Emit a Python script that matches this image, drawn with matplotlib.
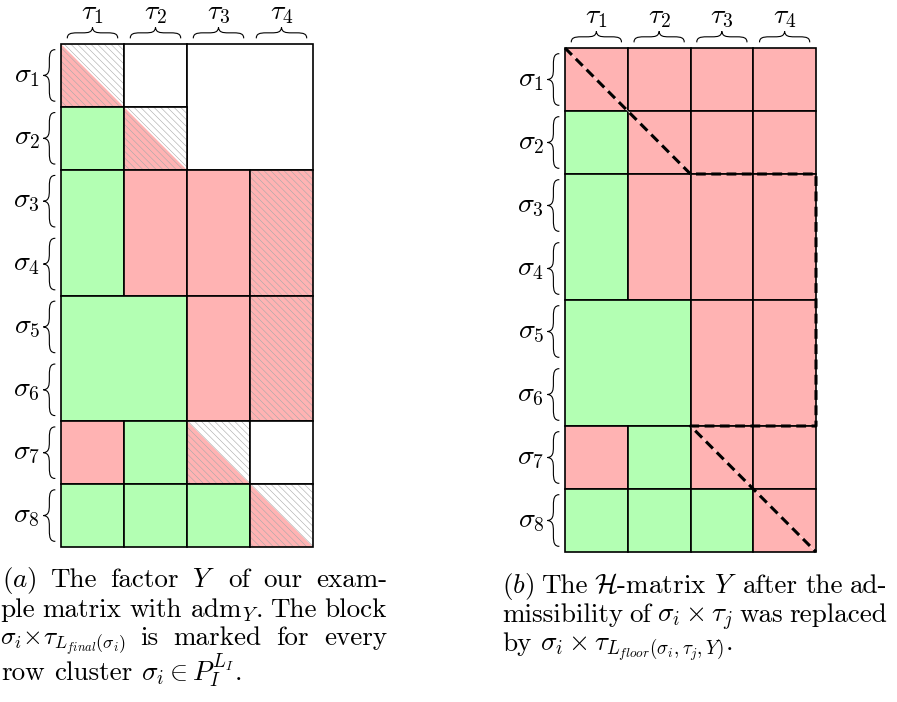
import matplotlib
matplotlib.use("Agg")
import matplotlib.pyplot as plt
from matplotlib.patches import Rectangle, Polygon, PathPatch
from matplotlib.path import Path

plt.rcParams['font.family'] = 'serif'
plt.rcParams['font.serif'] = ['cmr10']
plt.rcParams['mathtext.fontset'] = 'cm'
plt.rcParams['axes.unicode_minus'] = False
plt.rcParams['hatch.linewidth'] = 0.4

W, H = 897, 702
RED = '#ffb3b3'
GREEN = '#b3ffb3'
HATCH = '#a8a8a8'

# cluster layout: 8 row clusters, 4 column clusters
row_labels = [r'$\sigma_{%d}$' % i for i in range(1, 9)]
col_labels = [r'$\tau_{%d}$' % j for j in range(1, 5)]

# blocks of the factor Y: (first row, last row + 1, first col, last col + 1, kind)
blocks_a = [
    (0, 1, 0, 1, 'diag'), (0, 1, 1, 2, 'white'), (0, 2, 2, 4, 'white'),
    (1, 2, 0, 1, 'green'), (1, 2, 1, 2, 'diag'),
    (2, 4, 0, 1, 'green'), (2, 4, 1, 2, 'red'), (2, 4, 2, 3, 'red'), (2, 4, 3, 4, 'redhatch'),
    (4, 6, 0, 2, 'green'), (4, 6, 2, 3, 'red'), (4, 6, 3, 4, 'redhatch'),
    (6, 7, 0, 1, 'red'), (6, 7, 1, 2, 'green'), (6, 7, 2, 3, 'diag'), (6, 7, 3, 4, 'white'),
    (7, 8, 0, 1, 'green'), (7, 8, 1, 2, 'green'), (7, 8, 2, 3, 'green'), (7, 8, 3, 4, 'diag'),
]

# blocks of the H-matrix after replacing the admissibility
blocks_b = [
    (0, 1, 0, 1, 'red'), (0, 1, 1, 2, 'red'), (0, 1, 2, 3, 'red'), (0, 1, 3, 4, 'red'),
    (1, 2, 0, 1, 'green'), (1, 2, 1, 2, 'red'), (1, 2, 2, 3, 'red'), (1, 2, 3, 4, 'red'),
    (2, 4, 0, 1, 'green'), (2, 4, 1, 2, 'red'), (2, 4, 2, 3, 'red'), (2, 4, 3, 4, 'red'),
    (4, 6, 0, 2, 'green'), (4, 6, 2, 3, 'red'), (4, 6, 3, 4, 'red'),
    (6, 7, 0, 1, 'red'), (6, 7, 1, 2, 'green'), (6, 7, 2, 3, 'red'), (6, 7, 3, 4, 'red'),
    (7, 8, 0, 1, 'green'), (7, 8, 1, 2, 'green'), (7, 8, 2, 3, 'green'), (7, 8, 3, 4, 'red'),
]

# L_floor outline: diagonal, rectangle, diagonal
floor_x = [0, 2, 4, 4, 2, 4]
floor_y = [0, 2, 2, 6, 6, 8]


def brace_path(length, amp):
    r = min(amp * 0.9, length / 4)
    m = length / 2
    h = amp / 2
    verts = [(0, 0), (0, 0.4 * amp), (0.3 * r, h), (r, h),
             (m - r, h),
             (m - 0.4 * r, h), (m - 0.05 * r, 0.55 * amp), (m, amp),
             (m + 0.05 * r, 0.55 * amp), (m + 0.4 * r, h), (m + r, h),
             (length - r, h),
             (length - 0.3 * r, h), (length, 0.4 * amp), (length, 0)]
    codes = [Path.MOVETO, Path.CURVE4, Path.CURVE4, Path.CURVE4,
             Path.LINETO,
             Path.CURVE4, Path.CURVE4, Path.CURVE4,
             Path.CURVE4, Path.CURVE4, Path.CURVE4,
             Path.LINETO,
             Path.CURVE4, Path.CURVE4, Path.CURVE4]
    return verts, codes


def draw_brace(ax, start, end, base, amp, side):
    verts, codes = brace_path(end - start, amp)
    if side == 'top':
        pts = [(start + u, base - v) for u, v in verts]
    else:
        pts = [(base - v, start + u) for u, v in verts]
    ax.add_patch(PathPatch(Path(pts, codes), facecolor='none', edgecolor='black',
                           lw=0.8, clip_on=False))


def draw_matrix(ax, blocks):
    ax.set_xlim(0, 4)
    ax.set_ylim(8, 0)
    ax.set_axis_off()
    for r0, r1, c0, c1, kind in blocks:
        w, h = c1 - c0, r1 - r0
        if kind in ('red', 'green', 'white', 'redhatch'):
            fc = {'red': RED, 'green': GREEN, 'white': 'white', 'redhatch': RED}[kind]
            ax.add_patch(Rectangle((c0, r0), w, h, facecolor=fc, edgecolor='none'))
        if kind == 'diag':
            ax.add_patch(Rectangle((c0, r0), w, h, facecolor='white', edgecolor='none'))
            ax.add_patch(Polygon([(c0, r0), (c0, r1), (c1, r1)], closed=True,
                                 facecolor=RED, edgecolor='none'))
        if kind in ('diag', 'redhatch'):
            ax.add_patch(Rectangle((c0, r0), w, h, facecolor='none', edgecolor=HATCH,
                                   lw=0, hatch='\\\\\\\\\\'))
        ax.add_patch(Rectangle((c0, r0), w, h, facecolor='none', edgecolor='black',
                               lw=1.2, clip_on=False))
    for i, lab in enumerate(col_labels):
        draw_brace(ax, i + 0.1, i + 0.9, -0.09, 0.175, 'top')
        ax.text(i + 0.5, -0.4, lab, ha='center', va='baseline', fontsize=20)
    for i, lab in enumerate(row_labels):
        draw_brace(ax, i + 0.09, i + 0.91, -0.09, 0.19, 'left')
        ax.text(-0.33, i + 0.5, lab, ha='right', va='center', fontsize=20)


fig = plt.figure(figsize=(W / 100, H / 100), dpi=100)

ax_a = fig.add_axes([61 / W, 1 - 547 / H, 252 / W, 503 / H])
draw_matrix(ax_a, blocks_a)

ax_b = fig.add_axes([565 / W, 1 - 552 / H, 251 / W, 504 / H])
draw_matrix(ax_b, blocks_b)
ax_b.plot(floor_x[:2], floor_y[:2], color='white', lw=0.4, alpha=0.7, zorder=4)
ax_b.plot(floor_x[4:], floor_y[4:], color='white', lw=0.4, alpha=0.7, zorder=4)
ax_b.plot(floor_x, floor_y, color='black', lw=2.2, ls=(0, (3.2, 1.8)),
          zorder=5, clip_on=False)

# captions, set as justified lines
FS = 19.5
renderer = fig.canvas.get_renderer()


def caption_line(words, x0, x1, y, justify=True, sizes=None):
    sizes = sizes or [FS] * len(words)
    texts = [fig.text(x0 / W, 1 - y / H, w, fontsize=s, va='baseline', ha='left')
             for w, s in zip(words, sizes)]
    widths = [t.get_window_extent(renderer).width for t in texts]
    if justify and len(words) > 1:
        gap = (x1 - x0 - sum(widths)) / (len(words) - 1)
    else:
        gap = FS * 100 / 72 * 0.333
    x = x0
    for t, w in zip(texts, widths):
        t.set_x(x / W)
        x += w + gap


caption_line([r'$\mathit{(a)}$', 'The', 'factor', '$Y$', 'of', 'our', 'exam-'], 2, 387, 587)
caption_line(['ple', 'matrix', 'with', r'$\mathrm{adm}_Y$.', 'The', 'block'], 0, 387, 617)
caption_line([r'$\sigma_i\!\times\!\tau_{L_{final}(\sigma_i)}$', 'is', 'marked', 'for', 'every'],
             0, 387, 645, sizes=[18.3] + [FS] * 4)
caption_line(['row', 'cluster', r'$\sigma_i \in P_I^{L_I}$.'], 1, 387, 680, justify=False)

caption_line([r'$\mathit{(b)}$', 'The', r'$\mathcal{H}$-matrix', '$Y$', 'after', 'the', 'ad-'],
             502, 887, 593)
caption_line(['missibility', 'of', r'$\sigma_i \times \tau_j$', 'was', 'replaced'],
             502, 887, 622)
caption_line(['by', r'$\sigma_i \times \tau_{L_{floor}(\sigma_i,\tau_j,Y)}$.'],
             502, 887, 651, justify=False)

fig.savefig('out.png', dpi=100)
